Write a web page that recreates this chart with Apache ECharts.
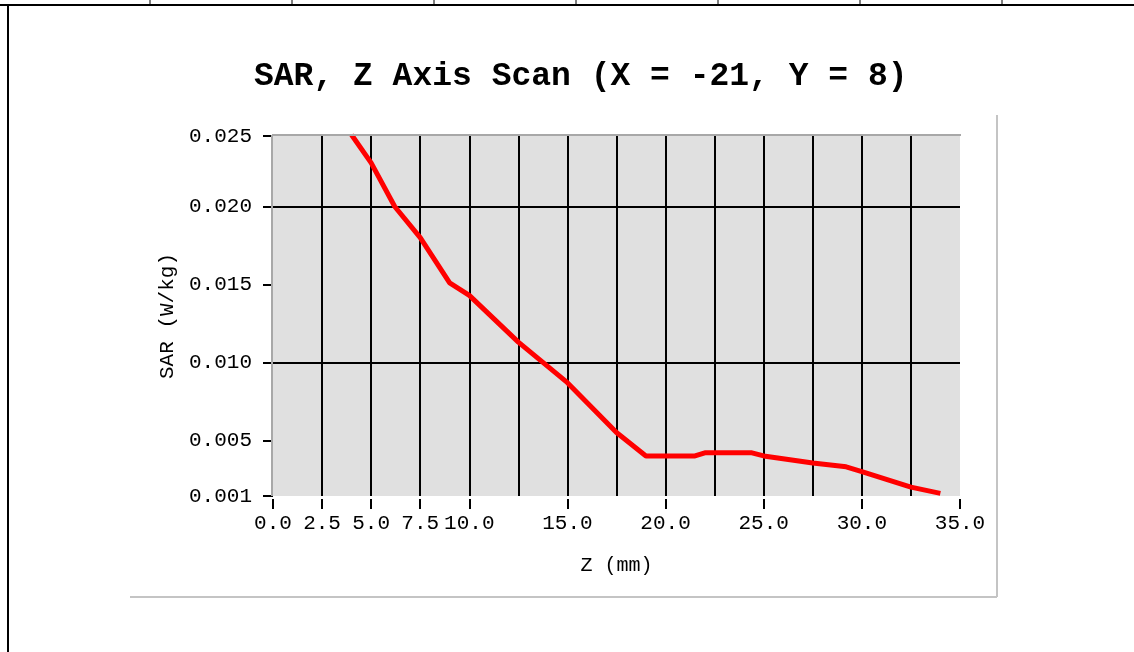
<!DOCTYPE html>
<html>
<head>
<meta charset="utf-8">
<script src="https://cdn.jsdelivr.net/npm/echarts@6/dist/echarts.min.js"></script>
<style>
html, body { margin: 0; padding: 0; background: #fff; }
#sarZ { width: 1134px; height: 652px; }
</style>
</head>
<body>
<div id="sarZ"></div>
<script>
// Z scan positions (mm) and SAR (W/kg)
var zPos = [4, 5, 6.2, 7.5, 9, 10, 12.5, 15, 17.5, 19, 21.5, 22, 24.4, 25, 27.5, 29.2, 30, 32.5, 34];
var sarVal = [0.0246, 0.0228, 0.0200, 0.0180, 0.0151, 0.0143, 0.0113, 0.0087, 0.0055, 0.0040, 0.0040, 0.0042, 0.0042, 0.0040, 0.00355, 0.0033, 0.0030, 0.0020, 0.0016];

// axis ticks and grid lines
var xTicks = [0, 2.5, 5, 7.5, 10, 15, 20, 25, 30, 35];
var xLines = [2.5, 5, 7.5, 10, 12.5, 15, 17.5, 20, 22.5, 25, 27.5, 30, 32.5];
var yTicks = [0.00143, 0.005, 0.010, 0.015, 0.020, 0.02452];
var yLines = [0.005, 0.010, 0.015, 0.020];

var chart = echarts.init(document.getElementById("sarZ"));

var lineData = zPos.map(function (z, i) { return [z, sarVal[i]]; });

var monoFont = "'Liberation Mono', 'DejaVu Sans Mono', monospace";
var gridL = 273, gridT = 136, gridW = 687, gridH = 360;

var topCols = [150, 292, 434, 576, 718, 860, 1002];
var decor = [
	{ type: 'line', shape: { x1: 0, y1: 5, x2: 1134, y2: 5 }, style: { stroke: '#000', lineWidth: 2 } },
	{ type: 'line', shape: { x1: 8, y1: 5, x2: 8, y2: 652 }, style: { stroke: '#000', lineWidth: 2 } },
	// panel shadow
	{ type: 'line', shape: { x1: 130, y1: 597, x2: 997, y2: 597 }, style: { stroke: '#c4c4c4', lineWidth: 2 } },
	{ type: 'line', shape: { x1: 997, y1: 115, x2: 997, y2: 597 }, style: { stroke: '#c4c4c4', lineWidth: 2 } },
	// plot frame top / left
	{ type: 'line', z: 100, shape: { x1: gridL - 1, y1: gridT - 1, x2: gridL + gridW + 1, y2: gridT - 1 }, style: { stroke: '#a8a8a8', lineWidth: 2 } },
	{ type: 'line', z: 100, shape: { x1: gridL - 1, y1: gridT - 1, x2: gridL - 1, y2: gridT + gridH }, style: { stroke: '#a8a8a8', lineWidth: 2 } }
];
topCols.forEach(function (x) {
	decor.push({ type: 'line', shape: { x1: x, y1: 0, x2: x, y2: 5 }, style: { stroke: '#000', lineWidth: 1 } });
});

var gridMarks = yLines.map(function (v) { return { yAxis: v }; })
	.concat(xLines.map(function (v) { return { xAxis: v }; }));

option = {
	backgroundColor: '#fff',
	animation: false,
	title: {
		text: 'SAR, Z Axis Scan (X = -21, Y = 8)',
		left: 249,
		top: 55,
		textStyle: { fontFamily: monoFont, fontSize: 33, fontWeight: 'bold', color: '#000' }
	},
	grid: {
		left: gridL, top: gridT, width: gridW, height: gridH,
		show: true, backgroundColor: '#e0e0e0', borderWidth: 0
	},
	xAxis: {
		type: 'value',
		min: 0, max: 35, interval: 2.5,
		offset: 3,
		name: 'Z (mm)',
		nameLocation: 'middle',
		nameGap: 57,
		nameTextStyle: { fontFamily: monoFont, fontSize: 20, color: '#000' },
		axisLine: { show: false },
		axisTick: { show: true, length: 10, customValues: xTicks, lineStyle: { color: '#000', width: 2 } },
		axisLabel: {
			customValues: xTicks, margin: 14, hideOverlap: false,
			fontFamily: monoFont, fontSize: 21, color: '#000',
			formatter: function (v) { return v.toFixed(1); }
		},
		splitLine: { show: false }
	},
	yAxis: {
		type: 'value',
		min: yTicks[0], max: yTicks[yTicks.length - 1],
		offset: 6,
		name: 'SAR (W/kg)',
		nameLocation: 'middle',
		nameGap: 88,
		nameRotate: 90,
		nameTextStyle: { fontFamily: monoFont, fontSize: 21, color: '#000' },
		axisLine: { show: false },
		axisTick: { show: true, length: 10, customValues: yTicks, lineStyle: { color: '#000', width: 2 } },
		axisLabel: {
			customValues: yTicks, margin: 15, hideOverlap: false,
			fontFamily: monoFont, fontSize: 21, color: '#000',
			formatter: function (v) { return v.toFixed(3); }
		},
		splitLine: { show: false }
	},
	graphic: decor,
	series: [
		{
			name: 'SAR',
			type: 'line',
			data: lineData,
			showSymbol: false,
			symbol: 'none',
			lineStyle: { color: '#ff0000', width: 5 },
			z: 5,
			markLine: {
				silent: true,
				symbol: 'none',
				label: { show: false },
				lineStyle: { color: '#000', width: 2, type: 'solid' },
				z: 1,
				data: gridMarks
			}
		}
	]
};
chart.setOption(option);

window.addEventListener("resize", function () {
	chart.resize();
});
</script>
</body>
</html>
